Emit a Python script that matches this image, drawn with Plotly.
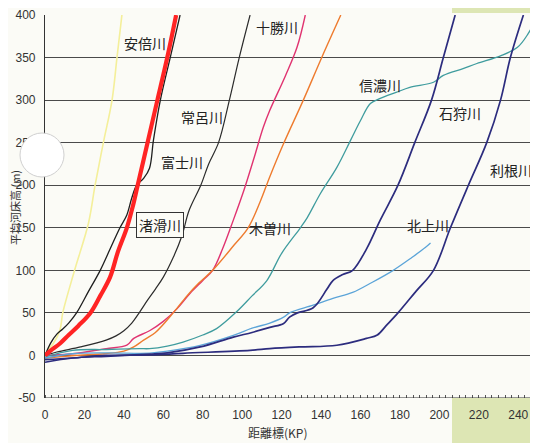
import plotly.graph_objects as go

# ---------------- data (km, m) ----------------
abe_x = [0, 2, 4.2, 7.6, 9, 15, 22, 25.4, 29.6, 34, 36.5, 39]
abe_y = [0, 8, 14, 30, 50, 100, 155, 200, 250, 300, 350, 400]

shokotsu_x = [0, 3, 7.6, 12, 17, 23, 28, 33, 37, 41.5, 44.5, 47, 52, 57, 62, 66.5]
shokotsu_y = [0, 6, 14, 24, 35, 50, 70, 92, 122, 150, 175, 200, 250, 300, 350, 400]

fuji_x = [0, 3, 6, 9, 12, 16, 22, 28, 33, 38, 41.5, 44, 46.5, 50, 53, 55, 58.5, 63.5, 68.5]
fuji_y = [0, 15, 25, 31, 38, 50, 75, 100, 125, 150, 165, 185, 200, 208, 220, 253, 300, 350, 400]

tokoro_x = [0, 6, 18, 31, 36, 40, 44, 48, 52, 56, 60, 65, 69.5, 73, 79, 83, 88, 93.5, 98.5, 104]
tokoro_y = [0, 4, 10, 18, 23, 29, 38, 51, 65, 78, 92, 115, 141, 170, 200, 225, 250, 300, 350, 400]

tokachi_x = [0, 14, 31, 41.5, 45, 53, 60, 67, 73.6, 80, 85, 90, 95.5, 101, 106, 110.7, 114, 122, 127.8, 132]
tokachi_y = [0, 2, 8, 12, 20, 29, 40, 55, 73, 88, 100, 125, 159, 195, 232, 268, 288, 329, 362, 400]

kiso_x = [0, 15, 30, 40, 45, 50, 56, 65, 72, 78, 85, 96, 103, 109, 114, 121, 131, 140.5, 150]
kiso_y = [-3, 0, 2, 5, 10, 18, 27, 50, 70, 85, 100, 130, 150, 180, 210, 249, 300, 351, 400]

shinano_x = [0, 14, 31, 48, 53, 62, 70, 80, 87, 97, 105, 112.5, 120, 129.5, 133, 139.6, 148, 155, 160, 165,
             170, 178, 185, 197, 202, 212, 219, 231, 239.6, 245, 250]
shinano_y = [-2, 6, 7, 8, 8, 11, 15.7, 24, 31.5, 51, 70, 88, 120, 150, 162, 190, 221, 253, 276, 296,
             302, 309, 315, 321, 329, 337, 343, 352, 362, 378, 400]

kitakami_x = [0, 14, 31, 53, 62, 78.7, 95.5, 105, 114, 121, 124, 136, 146, 156, 166, 176.6, 186, 193, 195.5]
kitakami_y = [-3, 2, 3, 2.7, 5, 11.8, 23.5, 32, 38, 45, 50, 59, 67, 74, 86, 100, 115, 127, 132]

ishikari_x = [0, 14, 31, 53, 62, 78.7, 95.5, 105, 114, 121, 124, 128, 136, 143, 146, 151, 156, 163, 170,
              179, 187.5, 196, 202, 208]
ishikari_y = [-8, -3, -1, 1.5, 3, 10, 21.6, 27, 33, 37.6, 45, 50, 56, 78, 88, 95, 100, 125, 159,
              200, 250, 300, 350, 400]

tone_x = [0, 14, 31, 53, 70, 104, 114, 129, 148, 163, 168.5, 173, 179, 188, 197, 205.6, 214.7, 224, 231, 236, 242.6]
tone_y = [-5, -3, 0, 0.5, 2.5, 6, 8, 10, 12, 20, 24, 35, 50, 75, 100, 150, 200, 250, 300, 350, 400]

x_ticks = [0, 20, 40, 60, 80, 100, 120, 140, 160, 180, 200, 220, 240]
y_ticks = [-50, 0, 50, 100, 150, 200, 250, 300, 350, 400]

labels = [
    ("安倍川", 50.7, 366.6, False),
    ("常呂川", 79.6, 279.7, False),
    ("富士川", 69.5, 226.8, False),
    ("渚滑川", 58.3, 152.8, True),
    ("十勝川", 117.6, 385.4, False),
    ("木曽川", 114.1, 149.2, False),
    ("信濃川", 169.9, 317.3, False),
    ("石狩川", 210.4, 284.4, False),
    ("利根川", 236.3, 217.4, False),
    ("北上川", 194.2, 152.8, False),
]

series = [
    ("安倍川", abe_x, abe_y, "#f4ef9a", 1.6),
    ("常呂川", tokoro_x, tokoro_y, "#2b2b2b", 1.2),
    ("富士川", fuji_x, fuji_y, "#1e1e1e", 1.3),
    ("十勝川", tokachi_x, tokachi_y, "#e03370", 1.4),
    ("木曽川", kiso_x, kiso_y, "#ee7b2e", 1.4),
    ("信濃川", shinano_x, shinano_y, "#3f9c9e", 1.3),
    ("北上川", kitakami_x, kitakami_y, "#5ba4d8", 1.3),
    ("石狩川", ishikari_x, ishikari_y, "#2c2c7e", 1.7),
    ("利根川", tone_x, tone_y, "#2c2c7e", 1.7),
    ("渚滑川", shokotsu_x, shokotsu_y, "#ff2424", 4.2),
]

# The page body has an 8px default margin, so the figure is sized/margined to compensate.
PAGE_OFF = 8
W, H = 538 - PAGE_OFF, 443 - PAGE_OFF
ML, MT = 45 - PAGE_OFF, 15 - PAGE_OFF
PW, PH = 493, 383

fig = go.Figure()
for name, xs, ys, col, w in series:
    fig.add_trace(go.Scatter(x=xs, y=ys, mode="lines", name=name,
                             line=dict(color=col, width=w, shape="spline", smoothing=1.0),
                             showlegend=False, hoverinfo="skip"))

cjk = "Noto Sans CJK JP"
for txt, lx, ly, boxed in labels:
    a = dict(x=lx, y=ly, xref="x", yref="y", text=txt, showarrow=False,
             font=dict(family=cjk, size=14, color="#222222"))
    if boxed:
        a.update(bordercolor="#333333", borderwidth=1, borderpad=2, bgcolor="#fcfcf6")
    fig.add_annotation(**a)


def px(xp):   # page x pixel -> paper
    return (xp - 45) / PW


def py(yp):   # page y pixel -> paper
    return (398 - yp) / PH


# axis titles
fig.add_annotation(x=px(15), y=py(208), xref="paper", yref="paper", text="平均河床高 (m)",
                   xanchor="center", yanchor="middle",
                   textangle=-90, showarrow=False, font=dict(family=cjk, size=11, color="#333333"))
fig.add_annotation(x=px(277), y=py(433), xref="paper", yref="paper",
                   xanchor="center", yanchor="middle",
                   text="距離標(KP)", showarrow=False, font=dict(family=cjk, size=12, color="#333333"))

# scan artifacts: green tint corners, hole punch
fig.add_shape(type="rect", xref="paper", yref="paper", x0=px(452), x1=1.0,
              y0=py(443), y1=0, fillcolor="#dde6b4", line=dict(width=0), layer="below")
fig.add_shape(type="rect", xref="paper", yref="paper", x0=px(452), x1=1.0,
              y0=py(13), y1=py(8), fillcolor="#dde6b4", line=dict(width=0), layer="below")
fig.add_shape(type="circle", xref="paper", yref="paper",
              x0=px(20), x1=px(64), y0=py(177), y1=py(133),
              fillcolor="#ffffff", line=dict(color="#d0d0d0", width=1), layer="above")

fig.update_layout(
    width=W, height=H,
    margin=dict(l=ML, r=W - ML - PW, t=MT, b=H - MT - PH, autoexpand=False),
    paper_bgcolor="#fbfbf6", plot_bgcolor="#fbfbf6",
    font=dict(family="Liberation Sans Narrow, Liberation Sans, sans-serif", size=12, color="#333333"),
)
fig.update_xaxes(range=[0, 250], tickvals=x_ticks, ticktext=[str(v) for v in x_ticks],
                 showgrid=False, zeroline=False, showline=False, automargin=False,
                 ticks="", ticklabelstandoff=8,
                 minor=dict(dtick=10 / 3, tick0=0, ticks="inside", ticklen=3, tickcolor="#555555"))
fig.update_yaxes(range=[-50, 400], tickvals=y_ticks, ticktext=[str(v) for v in y_ticks],
                 showgrid=True, gridcolor="#4a4a4a", gridwidth=1, zeroline=False, automargin=False,
                 showline=True, linecolor="#333333", linewidth=1.2, ticks="", ticklabelstandoff=6)
# bottom axis line at -50
fig.add_shape(type="line", xref="paper", yref="y", x0=0, x1=1, y0=-50, y1=-50,
              line=dict(color="#333333", width=1.2))

fig.write_html("out.html")
